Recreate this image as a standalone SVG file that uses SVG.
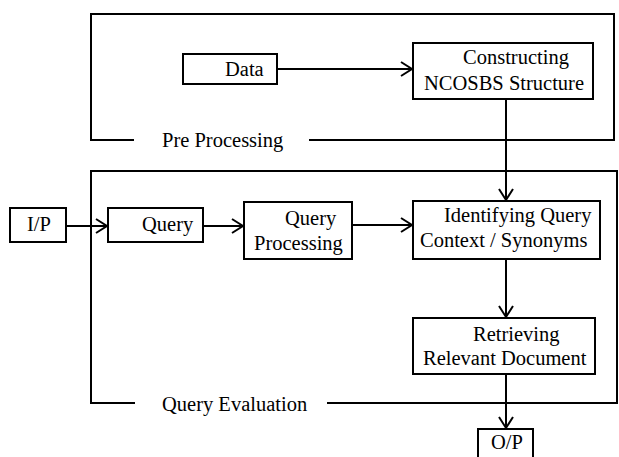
<svg xmlns="http://www.w3.org/2000/svg" width="619" height="457" viewBox="0 0 619 457" font-family="'Liberation Serif', 'DejaVu Serif', serif">
<defs>
<style>
.box{fill:#fff;stroke:#000;stroke-width:2}
.frame{fill:none;stroke:#000;stroke-width:2}
text{font-family:'Liberation Serif','DejaVu Serif',serif;font-size:20.5px;fill:#000}
.c{fill:none;stroke:#000;stroke-width:2}
</style>
<marker id="ah" markerUnits="userSpaceOnUse" markerWidth="16" markerHeight="18" refX="12" refY="8" orient="auto">
<path d="M1,1 L12,8 L1,15" fill="none" stroke="#000" stroke-width="2"/>
</marker>
</defs>
<rect width="619" height="457" fill="#fff"/>
<g id="frames">
<path class="frame" d="M134,140 H91 V14 H614 V140 H309"/>
<text x="162" y="147">Pre Processing</text>
<path class="frame" d="M135,403 H91 V171 H617 V403 H327"/>
<text x="162" y="411">Query Evaluation</text>
</g>
<g id="connectors">
<line class="c" x1="277" y1="69" x2="412" y2="69" marker-end="url(#ah)"/>
<line class="c" x1="506" y1="99" x2="506" y2="200" marker-end="url(#ah)"/>
<line class="c" x1="66" y1="226" x2="107" y2="226" marker-end="url(#ah)"/>
<line class="c" x1="203" y1="226" x2="243" y2="226" marker-end="url(#ah)"/>
<line class="c" x1="352" y1="225" x2="412" y2="225" marker-end="url(#ah)"/>
<line class="c" x1="506" y1="259" x2="506" y2="317" marker-end="url(#ah)"/>
<line class="c" x1="506" y1="374" x2="506" y2="428" marker-end="url(#ah)"/>
</g>
<g id="data">
<rect class="box" x="183" y="54" width="94" height="30"/>
<text x="225" y="76">Data</text>
</g>
<g id="constructing">
<rect class="box" x="413" y="43" width="180" height="56"/>
<text x="463" y="64">Constructing</text>
<text x="424" y="90">NCOSBS Structure</text>
</g>
<g id="ip">
<rect class="box" x="10" y="208" width="56" height="34"/>
<text x="27" y="231">I/P</text>
</g>
<g id="query">
<rect class="box" x="108" y="208" width="95" height="34"/>
<text x="142" y="231">Query</text>
</g>
<g id="queryprocessing">
<rect class="box" x="244" y="202" width="108" height="57"/>
<text x="285" y="225">Query</text>
<text x="254" y="250">Processing</text>
</g>
<g id="identifying">
<rect class="box" x="413" y="201" width="187" height="58"/>
<text x="444" y="222">Identifying Query</text>
<text x="420" y="247">Context / Synonyms</text>
</g>
<g id="retrieving">
<rect class="box" x="413" y="318" width="182" height="56"/>
<text x="473" y="341">Retrieving</text>
<text x="423" y="365">Relevant Document</text>
</g>
<g id="op">
<rect class="box" x="478" y="429" width="55" height="40"/>
<text x="491" y="449">O/P</text>
</g>
</svg>
